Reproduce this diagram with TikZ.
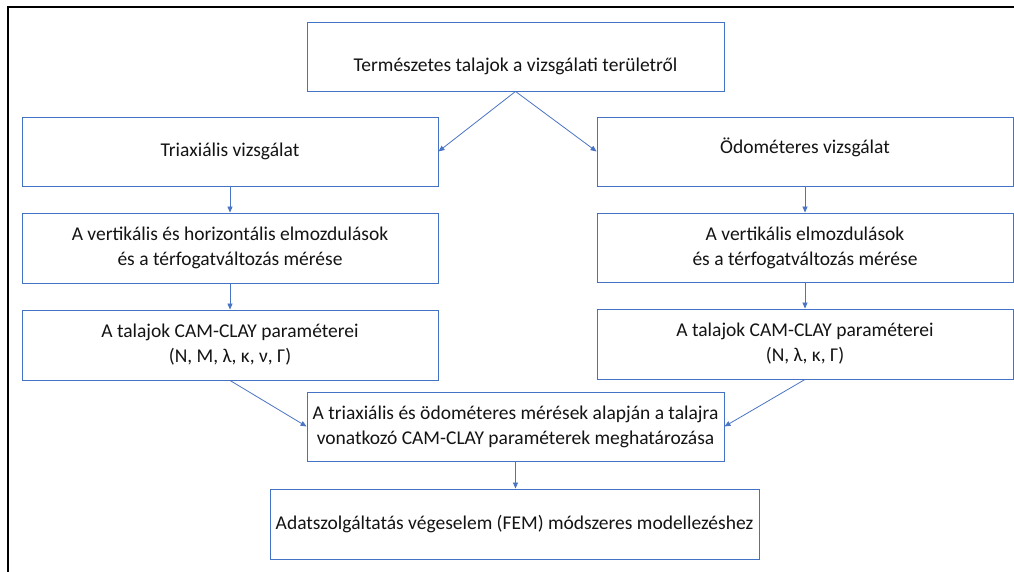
\documentclass[tikz,border=0pt]{standalone}
\usepackage{fontspec}
\setmainfont{Carlito}
\usetikzlibrary{arrows.meta}
\definecolor{bx}{HTML}{4472C4}
\definecolor{ln}{HTML}{4A74C4}
\definecolor{tx}{HTML}{141414}
\begin{document}
\begin{tikzpicture}[x=1pt,y=-1pt,
  box/.style={draw=bx, line width=0.9pt, fill=white, text=tx,
    inner sep=0pt, minimum width=416pt, minimum height=69pt,
    font=\fontsize{19.5}{25}\selectfont},
  mbox/.style={box, align=center},
  conn/.style={draw=ln, line width=0.8pt, -{Triangle[length=6pt,width=5pt]}}]
\useasboundingbox (0,0) rectangle (1014,572);
\fill[white] (0,0) rectangle (1014,572);
\draw[line width=2.5pt, black] (8,572) -- (8,7) -- (1014,7);

\node[box, minimum width=417pt] (t) at (515.5,56.5) {\rule{0pt}{34pt}Természetes talajok a vizsgálati területről};
\node[box] (l1) at (230,151.5) {Triaxiális vizsgálat};
\node[box] (r1) at (805,151.5) {\rule[-12pt]{0pt}{1pt}Ödométeres vizsgálat};
\node[mbox, minimum height=70pt] (l2) at (230,248) {A vertikális és horizontális elmozdulások\\és a térfogatváltozás mérése};
\node[mbox] (r2) at (805,247.5) {A vertikális elmozdulások\\és a térfogatváltozás mérése};
\node[mbox, minimum height=70pt] (l3) at (230,345) {A talajok CAM-CLAY paraméterei\\(N, M, λ, κ, ν, Γ)};
\node[mbox, minimum height=70pt] (r3) at (805,344) {A talajok CAM-CLAY paraméterei\\(N, λ, κ, Γ)};
\node[mbox, minimum width=417pt] (m) at (515.5,426.5) {A triaxiális és ödométeres mérések alapján a talajra\\vonatkozó CAM-CLAY paraméterek meghatározása};
\node[box, minimum width=489pt, minimum height=70pt] (b) at (514.5,524) {Adatszolgáltatás végeselem (FEM) módszeres modellezéshez};

\draw[conn] (t.south) -- (l1.east);
\draw[conn] (t.south) -- (r1.west);
\draw[conn] (l1.south) -- (l2.north);
\draw[conn] (r1.south) -- (r2.north);
\draw[conn] (l2.south) -- (l3.north);
\draw[conn] (r2.south) -- (r3.north);
\draw[conn] (l3.south) -- (m.west);
\draw[conn] (r3.south) -- (m.east);
\draw[conn] (m.south) -- (m.south |- b.north);
\end{tikzpicture}
\end{document}
